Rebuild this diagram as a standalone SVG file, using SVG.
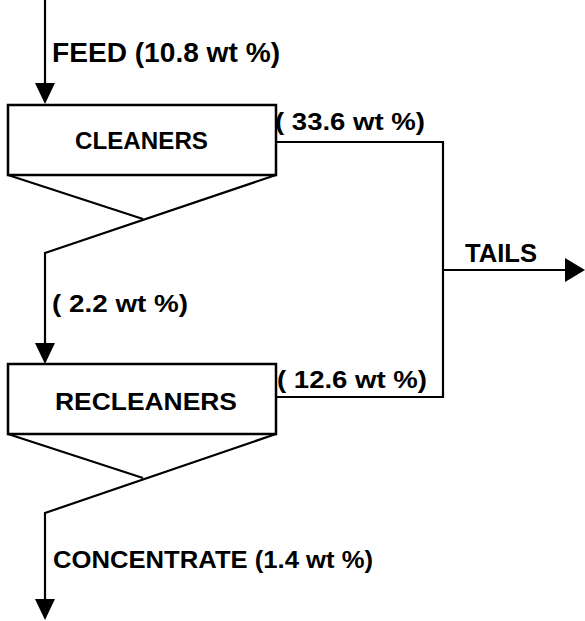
<svg xmlns="http://www.w3.org/2000/svg" width="585" height="621" viewBox="0 0 585 621">
<style>
.ln{fill:none;stroke:#000;stroke-width:2.2;stroke-linejoin:miter}
.box{fill:#fff;stroke:#000;stroke-width:2.5}
.ah{fill:#000}
text{font-family:"Liberation Sans",Arial,sans-serif;font-weight:bold;fill:#000}
</style>
<rect width="585" height="621" fill="#fff"/>
<g id="connectors">
<path class="ln" d="M45,0 V86"/>
<polygon class="ah" points="35,83 55,83 45,104"/>
<path class="ln" d="M8,175 L143,219"/>
<path class="ln" d="M276,175 L45,253 V346"/>
<polygon class="ah" points="35,343 55,343 45,364"/>
<path class="ln" d="M8,434 L143,478"/>
<path class="ln" d="M276,434 L45,513 V602"/>
<polygon class="ah" points="35,599 55,599 45,620"/>
<path class="ln" d="M276,142 H443 V397 H276"/>
<path class="ln" d="M443,270 H568"/>
<polygon class="ah" points="565,258 565,282 585,270"/>
</g>
<g id="cleaners">
<rect class="box" x="8" y="105" width="268" height="70"/>
<text x="75" y="149" font-size="23" textLength="133" lengthAdjust="spacingAndGlyphs">CLEANERS</text>
</g>
<g id="recleaners">
<rect class="box" x="8" y="364" width="268" height="70"/>
<text x="55" y="410" font-size="24" textLength="182" lengthAdjust="spacingAndGlyphs">RECLEANERS</text>
</g>
<g id="labels">
<text x="52" y="62" font-size="27" textLength="228" lengthAdjust="spacingAndGlyphs">FEED (10.8 wt %)</text>
<text x="275" y="130" font-size="23" textLength="150" lengthAdjust="spacingAndGlyphs">( 33.6 wt %)</text>
<text x="465" y="262" font-size="25" textLength="72" lengthAdjust="spacingAndGlyphs">TAILS</text>
<text x="52" y="312" font-size="23" textLength="136" lengthAdjust="spacingAndGlyphs">( 2.2 wt %)</text>
<text x="277" y="388" font-size="23" textLength="150" lengthAdjust="spacingAndGlyphs">( 12.6 wt %)</text>
<text x="53" y="568" font-size="23" textLength="320" lengthAdjust="spacingAndGlyphs">CONCENTRATE (1.4 wt %)</text>
</g>
</svg>
